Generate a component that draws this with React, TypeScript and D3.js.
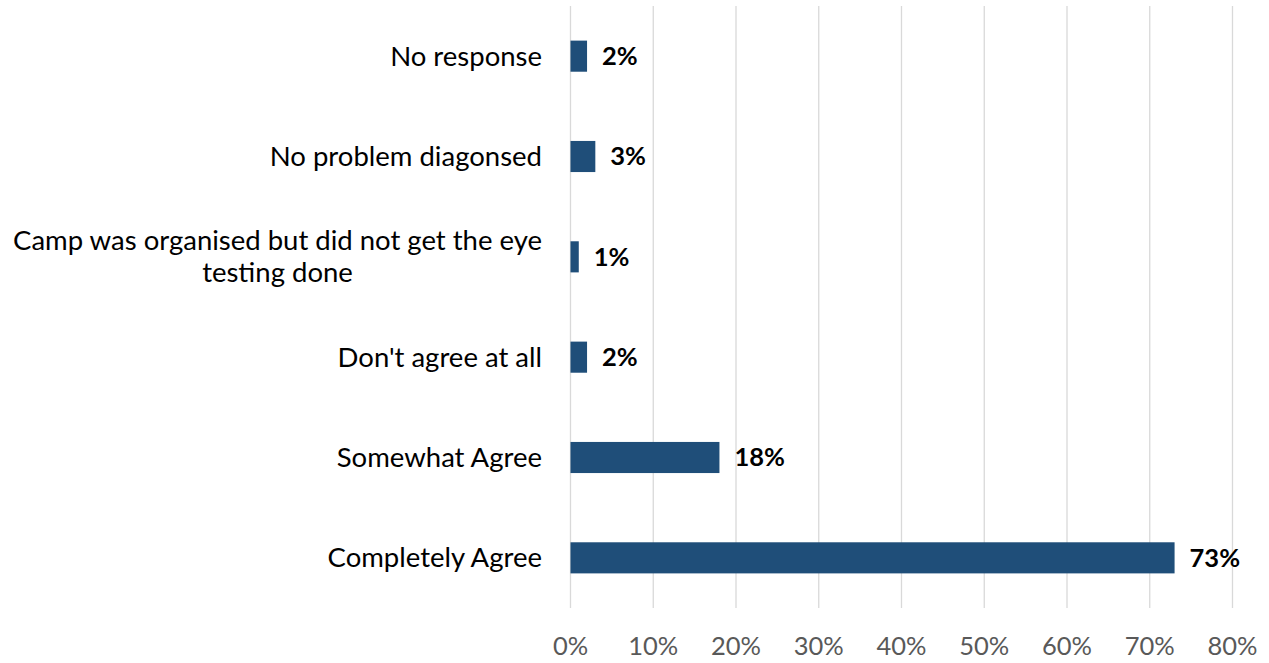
import React, { useEffect, useRef } from "react";
import * as d3 from "d3";

const categories: string[][] = [
  ["No response"],
  ["No problem diagonsed"],
  ["Camp was organised but did not get the eye", "testing done"],
  ["Don't agree at all"],
  ["Somewhat Agree"],
  ["Completely Agree"],
];
const values: number[] = [2, 3, 1, 2, 18, 73];
const ticks: number[] = [0, 10, 20, 30, 40, 50, 60, 70, 80];

const W = 1269;
const H = 663;
const FONT = "Lato, 'Noto Sans', sans-serif";

export default function App() {
  const ref = useRef<SVGSVGElement>(null);
  useEffect(() => {
    const svg = d3.select(ref.current);
    svg.selectAll("*").remove();
    const x = d3.scaleLinear().domain([0, 80]).range([570.5, 1232.5]);
    const y = d3
      .scaleBand<number>()
      .domain(categories.map((_, i) => i))
      .range([6, 608])
      .paddingInner(0.69)
      .paddingOuter(0.345);

    const grid = svg.append("g");
    grid
      .selectAll("line")
      .data(ticks)
      .join("line")
      .attr("x1", (d) => x(d))
      .attr("x2", (d) => x(d))
      .attr("y1", 6)
      .attr("y2", 608)
      .attr("stroke", "#D9D9D9")
      .attr("stroke-width", 1.3);

    svg
      .append("g")
      .selectAll("text")
      .data(ticks)
      .join("text")
      .attr("x", (d) => x(d))
      .attr("y", 655)
      .attr("text-anchor", "middle")
      .attr("font-family", FONT)
      .attr("font-size", 25.5)
      .attr("fill", "#595959")
      .text((d) => `${d}%`);

    svg
      .append("g")
      .selectAll("rect")
      .data(values)
      .join("rect")
      .attr("x", x(0))
      .attr("y", (_, i) => y(i)!)
      .attr("width", (d) => x(d) - x(0))
      .attr("height", y.bandwidth())
      .attr("fill", "#1F4E79");

    svg
      .append("g")
      .selectAll("text")
      .data(values)
      .join("text")
      .attr("x", (d) => x(d) + 15)
      .attr("y", (_, i) => y(i)! + y.bandwidth() / 2)
      .attr("dy", "0.35em")
      .attr("font-family", FONT)
      .attr("font-size", 25.5)
      .attr("font-weight", "bold")
      .attr("fill", "#000")
      .text((d) => `${d}%`);

    const LS = 27.5;
    const labels = svg.append("g");
    categories.forEach((lines, i) => {
      const cy = y(i)! + y.bandwidth() / 2;
      if (lines.length === 1) {
        labels
          .append("text")
          .attr("x", 542)
          .attr("y", cy)
          .attr("dy", "0.35em")
          .attr("text-anchor", "end")
          .attr("font-family", FONT)
          .attr("font-size", LS)
          .attr("fill", "#000")
          .text(lines[0]);
      } else {
        const t1 = labels
          .append("text")
          .attr("x", 542)
          .attr("y", cy - 16)
          .attr("dy", "0.35em")
          .attr("text-anchor", "end")
          .attr("font-family", FONT)
          .attr("font-size", LS)
          .attr("fill", "#000")
          .text(lines[0]);
        const w = (t1.node() as SVGTextElement).getComputedTextLength();
        labels
          .append("text")
          .attr("x", 542 - w / 2)
          .attr("y", cy + 16)
          .attr("dy", "0.35em")
          .attr("text-anchor", "middle")
          .attr("font-family", FONT)
          .attr("font-size", LS)
          .attr("fill", "#000")
          .text(lines[1]);
      }
    });
  }, []);
  return (
    <svg
      ref={ref}
      width={W}
      height={H}
      style={{ position: "absolute", left: 0, top: 0, background: "#fff" }}
    />
  );
}
